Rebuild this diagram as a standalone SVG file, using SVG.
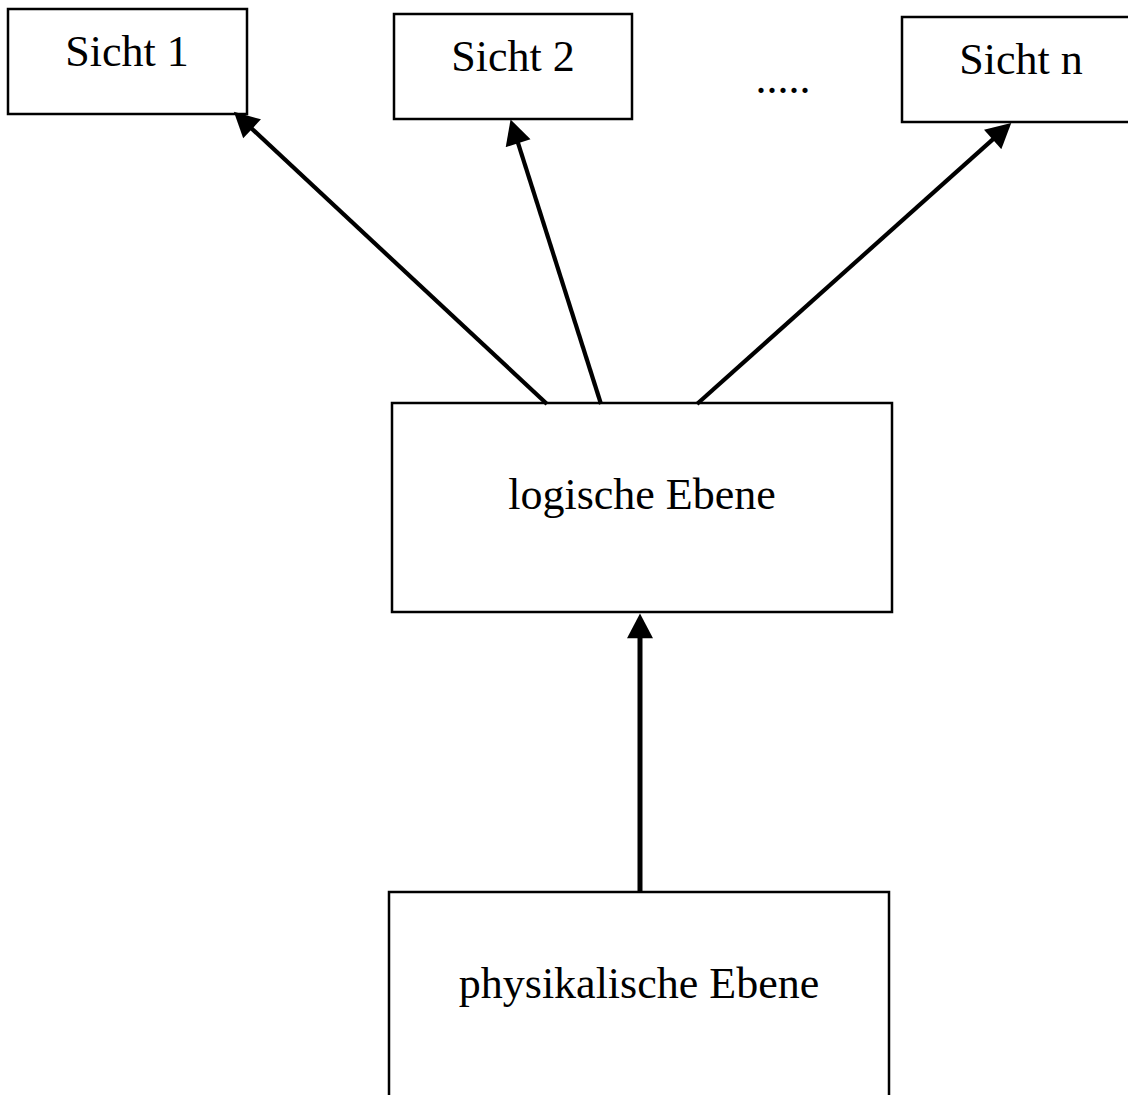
<svg xmlns="http://www.w3.org/2000/svg" width="1128" height="1095" viewBox="0 0 1128 1095">
<style>
.box{fill:#fff;stroke:#000;stroke-width:2.5}
.lbl{font-family:"Liberation Serif","Times New Roman",serif;font-size:44px;fill:#000;text-anchor:middle}
.con{stroke:#000;stroke-width:4.2;fill:none}
</style>
<defs>
<marker id="ah" markerUnits="userSpaceOnUse" markerWidth="26" markerHeight="26" viewBox="0 0 23 24" refX="4" refY="12" orient="auto">
<path d="M0,0 L23,12 L0,24 z" fill="#000"/>
</marker>
</defs>
<rect width="1128" height="1095" fill="#fff"/>
<g id="sicht1"><rect class="box" x="8" y="9" width="239" height="105"/><text class="lbl" x="127" y="66">Sicht 1</text></g>
<g id="sicht2"><rect class="box" x="394" y="14" width="238" height="105"/><text class="lbl" x="513" y="71">Sicht 2</text></g>
<g id="dots"><text class="lbl" x="783" y="93">.....</text></g>
<g id="sichtn"><rect class="box" x="902" y="17" width="240" height="105"/><text class="lbl" x="1021" y="74">Sicht n</text></g>
<g id="logisch"><rect class="box" x="392" y="403" width="500" height="209"/><text class="lbl" x="642" y="509">logische Ebene</text></g>
<g id="physisch"><rect class="box" x="389" y="892" width="500" height="220"/><text class="lbl" x="639" y="998">physikalische Ebene</text></g>
<g id="connectors">
<line class="con" x1="547" y1="404" x2="248.9" y2="125.9" marker-end="url(#ah)"/>
<line class="con" x1="601" y1="404" x2="516.8" y2="139.1" marker-end="url(#ah)"/>
<line class="con" x1="697" y1="404" x2="995.9" y2="136.6" marker-end="url(#ah)"/>
<line class="con" x1="640" y1="891" x2="640" y2="634" marker-end="url(#ah)" style="stroke-width:5"/>
</g>
</svg>
